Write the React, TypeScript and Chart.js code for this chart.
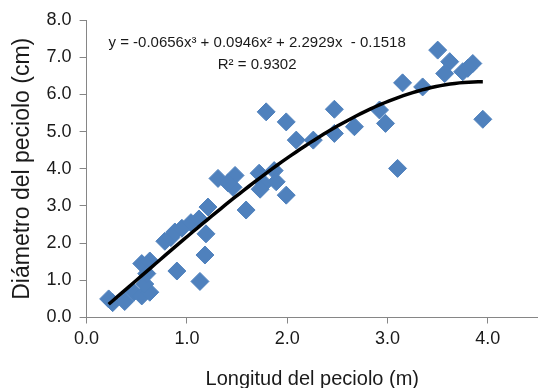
import React, { useEffect, useRef } from 'react';
import { Chart, registerables } from 'chart.js';

Chart.register(...registerables);

// Longitud del peciolo (m)
const longitud = [
  0.22, 0.26, 0.38, 0.47, 0.55, 0.63, 0.58, 0.55, 0.63, 0.60,
  0.78, 0.84, 0.88, 0.95, 1.04, 1.12, 1.21, 1.19, 1.18, 0.90,
  1.13, 1.31, 1.48, 1.46, 1.41, 1.72, 1.77, 1.87, 1.89, 1.73,
  1.59, 1.99, 1.79, 1.99, 2.09, 2.26, 2.47, 2.47, 2.67, 2.92,
  2.98, 3.10, 3.15, 3.35, 3.50, 3.62, 3.57, 3.85, 3.75, 3.80,
  3.95,
];
// Diámetro del peciolo (cm)
const diametro = [
  0.50, 0.40, 0.43, 0.68, 0.58, 0.68, 0.90, 1.45, 1.52, 1.18,
  2.05, 2.15, 2.30, 2.40, 2.55, 2.65, 2.97, 2.25, 1.68, 1.25,
  0.97, 3.74, 3.82, 3.50, 3.62, 3.88, 3.60, 3.95, 3.65, 3.45,
  2.89, 3.29, 5.53, 5.26, 4.77, 4.77, 4.95, 5.60, 5.13, 5.58,
  5.22, 4.01, 6.31, 6.20, 7.19, 6.88, 6.56, 6.83, 6.61, 6.70,
  5.33,
];

// Polynomial trendline coefficients (as printed on the chart)
const trendCoef = [-0.0656, 0.0946, 2.2929, -0.1518];
const equationText = 'y = -0.0656x³ + 0.0946x² + 2.2929x  - 0.1518';
const r2Text = 'R² = 0.9302';
const xTitle = 'Longitud del peciolo (m)';
const yTitle = 'Diámetro del peciolo (cm)';

const FONT = "'Liberation Sans', Arial, sans-serif";

export default function App() {
  const ref = useRef<HTMLCanvasElement | null>(null);

  useEffect(() => {
    if (!ref.current) return;
    const points = longitud.map((x, i) => ({ x, y: diametro[i] }));
    const xmin = Math.min(...longitud);
    const xmax = Math.max(...longitud);
    const trend: { x: number; y: number }[] = [];
    const n = 80;
    for (let i = 0; i <= n; i++) {
      const x = xmin + ((xmax - xmin) * i) / n;
      const [a, b, c, d] = trendCoef;
      trend.push({ x, y: a * x * x * x + b * x * x + c * x + d });
    }

    const annotation = {
      id: 'equation',
      afterDatasetsDraw(chart: any) {
        const { ctx, scales } = chart;
        const xs = scales.x;
        const ys = scales.y;
        ctx.save();
        ctx.fillStyle = '#1a1a1a';
        ctx.font = `15px ${FONT}`;
        ctx.textAlign = 'center';
        ctx.textBaseline = 'middle';
        ctx.fillText(equationText, xs.getPixelForValue(1.70), ys.getPixelForValue(7.38));
        ctx.fillText(r2Text, xs.getPixelForValue(1.70), ys.getPixelForValue(6.79));
        ctx.restore();
      },
    };

    const chart = new Chart(ref.current, {
      type: 'scatter',
      data: {
        datasets: [
          {
            label: 'Tendencia',
            data: trend,
            showLine: true,
            borderColor: '#000000',
            borderWidth: 3.5,
            pointRadius: 0,
            fill: false,
            order: 0,
          } as any,
          {
            label: 'Datos',
            data: points,
            pointStyle: 'rectRot',
            pointRadius: 9,
            backgroundColor: '#4F81BD',
            borderColor: '#4F81BD',
            borderWidth: 1,
            order: 1,
          } as any,
        ],
      },
      options: {
        animation: false,
        responsive: true,
        maintainAspectRatio: false,
        layout: { autoPadding: false, padding: { top: 20, right: 0, left: 0, bottom: 0 } },
        plugins: { legend: { display: false }, tooltip: { enabled: false } },
        scales: {
          x: {
            type: 'linear',
            min: 0,
            max: 4.5,
            grid: { drawOnChartArea: false, drawTicks: true, tickLength: 6, color: '#868686' },
            border: { display: true, color: '#868686', width: 1 },
            ticks: {
              stepSize: 1,
              includeBounds: false,
              padding: 5,
              color: '#1a1a1a',
              font: { family: FONT, size: 18 },
              callback: (v: any) => Number(v).toFixed(1),
            },
            title: {
              display: true,
              text: xTitle,
              color: '#1a1a1a',
              font: { family: FONT, size: 20, lineHeight: 0.9 },
              padding: { top: 0, bottom: 0 },
            },
            afterFit: (s: any) => {
              s.height = 70.5;
              s.paddingRight = 0;
              s.paddingLeft = 0;
            },
          },
          y: {
            type: 'linear',
            min: 0,
            max: 8,
            grid: { drawOnChartArea: false, drawTicks: true, tickLength: 7, color: '#868686' },
            border: { display: true, color: '#868686', width: 1 },
            ticks: {
              stepSize: 1,
              padding: 8,
              color: '#1a1a1a',
              font: { family: FONT, size: 18 },
              callback: (v: any) => Number(v).toFixed(1),
            },
            title: {
              display: true,
              text: yTitle,
              color: '#1a1a1a',
              font: { family: FONT, size: 23 },
              padding: { top: 9, bottom: 0 },
            },
            afterFit: (s: any) => { s.width = 86.6; },
          },
        },
      },
      plugins: [annotation],
    });
    return () => chart.destroy();
  }, []);

  return (
    <div style={{ position: 'fixed', left: 0, top: 0, width: 538, height: 388 }}>
      <canvas ref={ref} />
    </div>
  );
}
